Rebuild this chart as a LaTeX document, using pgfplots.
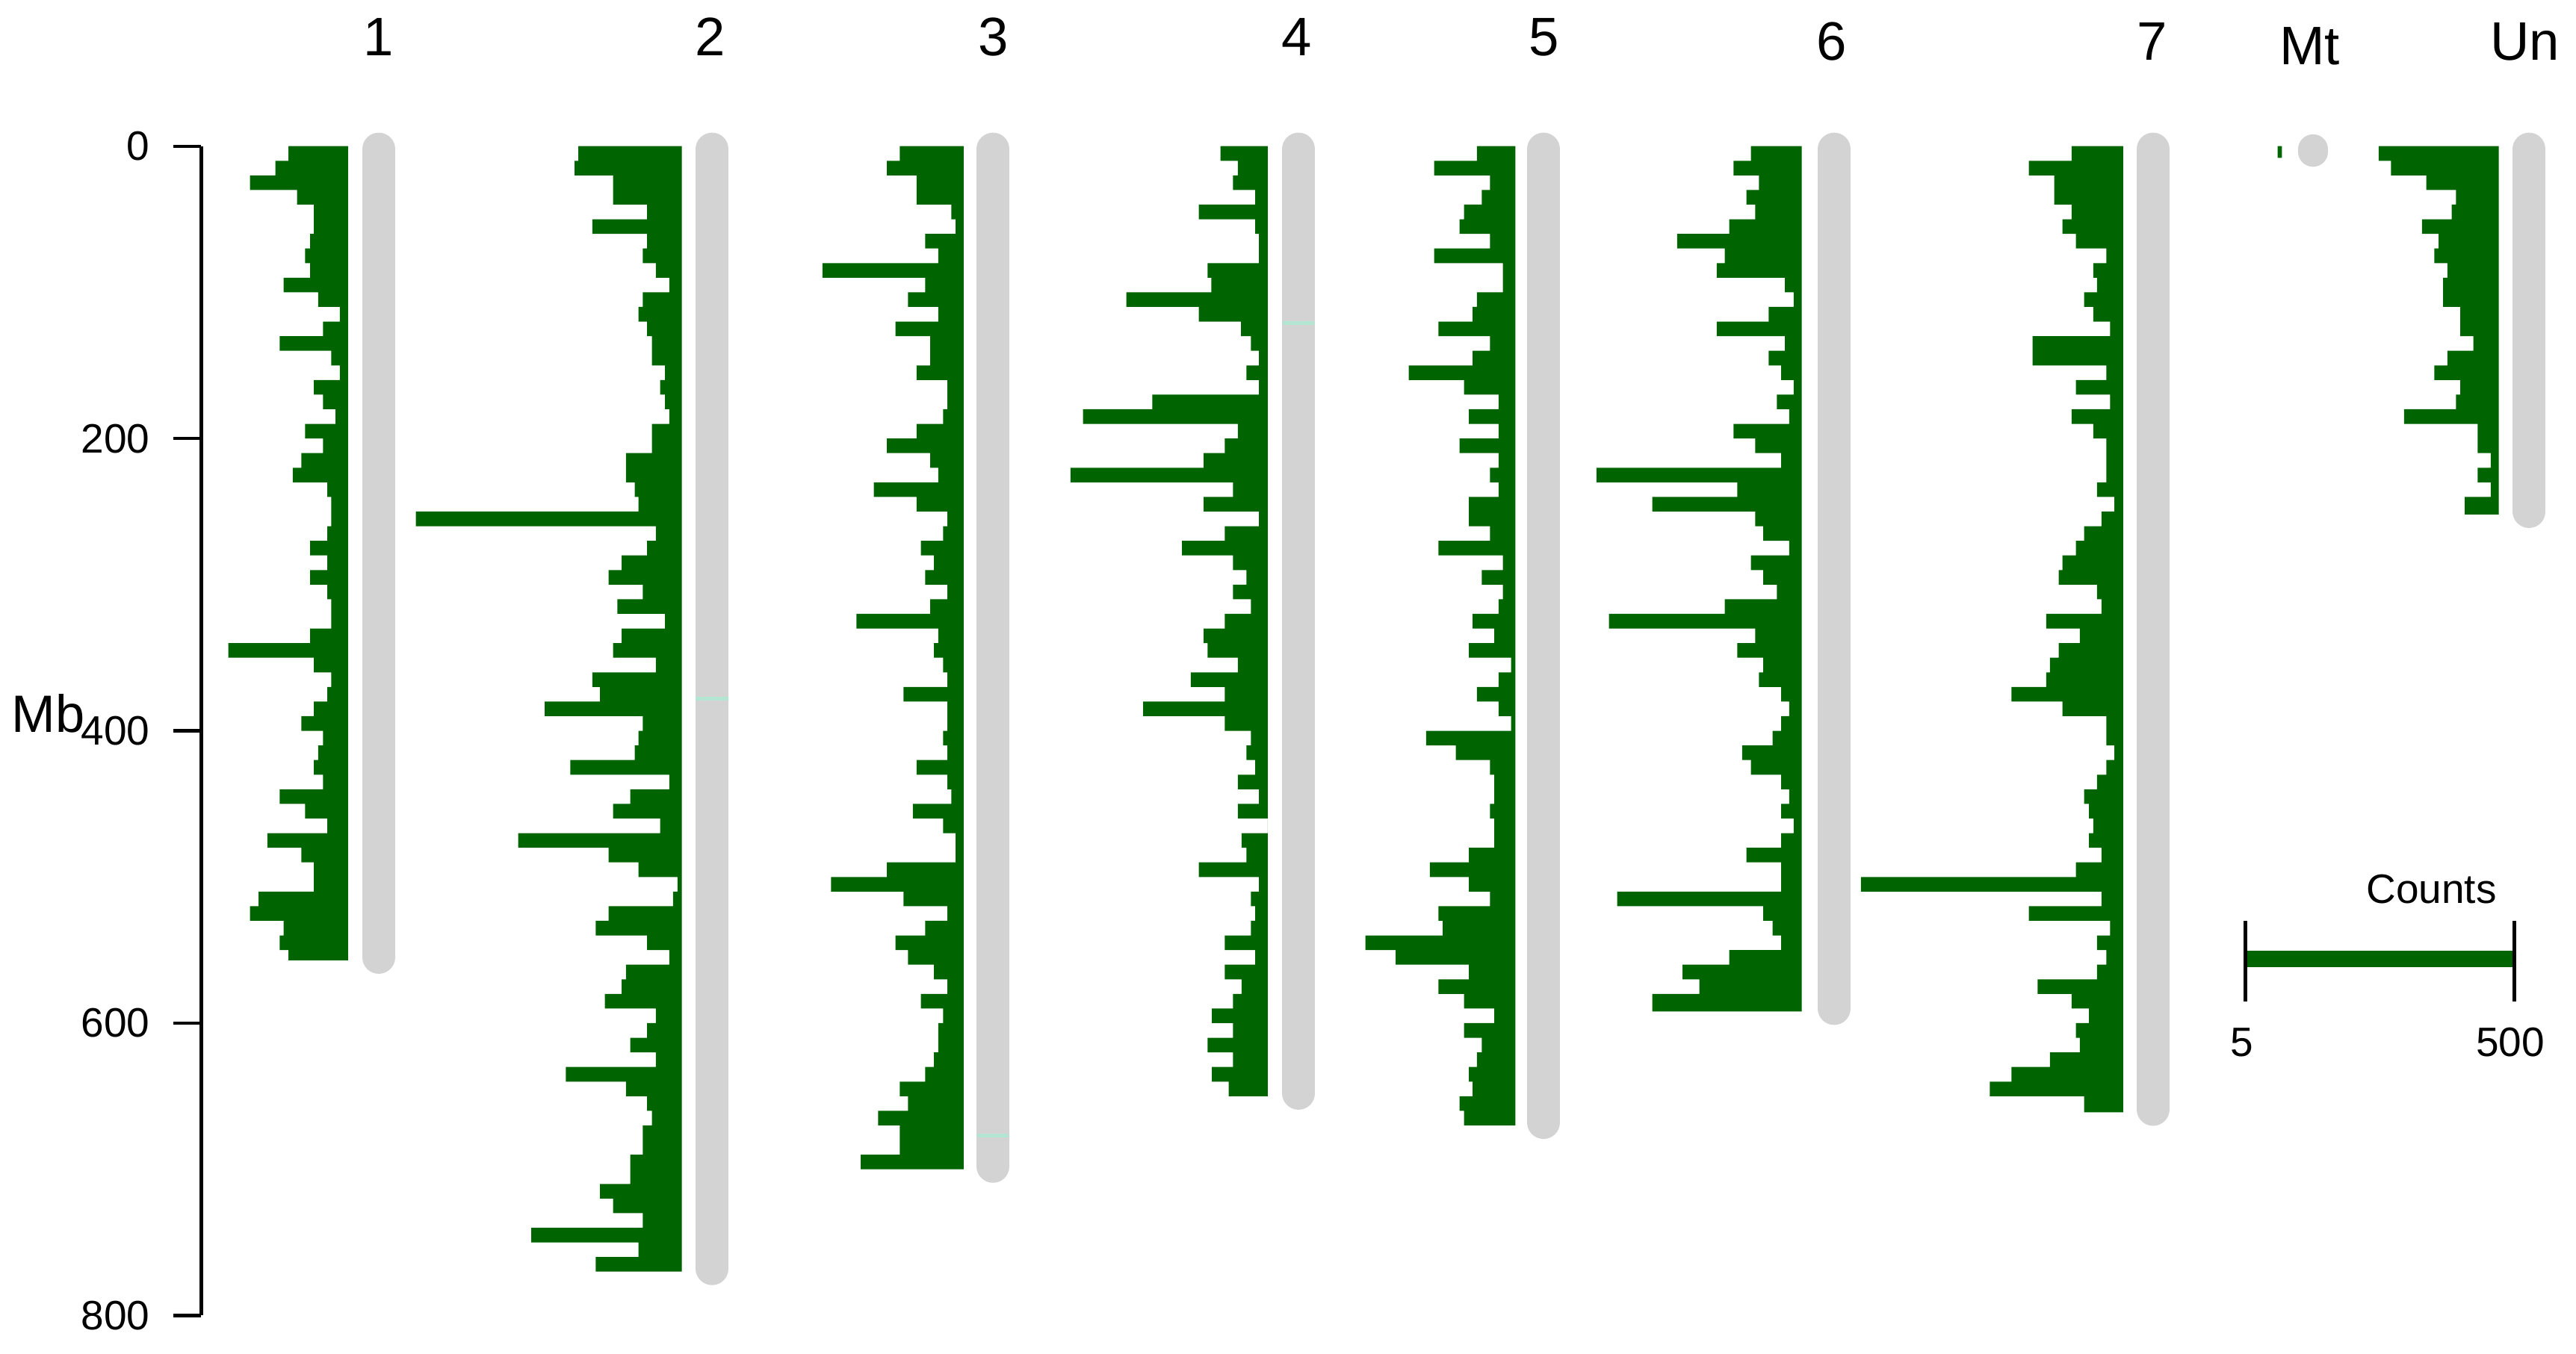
\documentclass[border=0pt]{standalone}
\usepackage{fontspec}
\setmainfont{Liberation Sans}
\usepackage{pgfplots}
\pgfplotsset{compat=1.18}

\definecolor{hgreen}{RGB}{0,100,0}
\definecolor{chrom}{RGB}{211,211,211}
\definecolor{cencol}{RGB}{178,230,210}
\newcommand{\fs}[1]{\fontsize{#1}{#1}\selectfont}

% one bin = 10 Mb; coordinates are (count, bin start in Mb)
% 500 counts = 164.8 units of bar length
\pgfplotsset{
  chr/.style={fill=hgreen, draw=none, const plot mark right,
    x filter/.expression={#1-0.3296*x}},
  cap/.style={chrom, line width=20pt, line cap=round},
  cenmark/.style={cencol, line width=2.5pt},
}

\begin{document}
\begin{tikzpicture}
\begin{axis}[name=main, x=1pt, y=0.89pt, y dir=reverse,
  xmin=0, xmax=1568, ymin=-100, ymax=826,
  hide axis, clip=false]

% chromosome bodies
\addplot[cap] coordinates {(230.5,2)(230.5,555)};
\addplot[cap] coordinates {(433.5,2)(433.5,768)};
\addplot[cap] coordinates {(604.5,2)(604.5,698)};
\addplot[cap] coordinates {(790.5,2)(790.5,648)};
\addplot[cap] coordinates {(939.5,2)(939.5,668)};
\addplot[cap] coordinates {(1116.5,2)(1116.5,590)};
\addplot[cap] coordinates {(1310.5,2)(1310.5,659)};
\addplot[chrom, line width=18pt, line cap=round] coordinates {(1408,2)(1408,4)};
\addplot[cap] coordinates {(1539.5,2)(1539.5,250)};

% centromere marks
\addplot[cenmark] coordinates {(423.5,378)(443.5,378)};
\addplot[cenmark] coordinates {(595,677)(614,677)};
\addplot[cenmark] coordinates {(781,121)(800,121)};

% chr 1
\addplot[chr=211.8] coordinates {(0,0)
(110,0)(134,10)(181,20)(94,30)(63,40)(63,50)(70,60)(79,70)(70,80)(119,90)
(55,100)(15,110)(46,120)(126,130)(31,140)(15,150)(63,160)(46,170)(23,180)(79,190)
(46,200)(86,210)(102,220)(38,230)(31,240)(31,250)(38,260)(70,270)(38,280)(70,290)
(38,300)(31,310)(31,320)(70,330)(221,340)(63,350)(31,360)(38,370)(63,380)(86,390)
(46,400)(55,410)(63,420)(46,430)(126,440)(79,450)(38,460)(149,470)(86,480)(63,490)
(63,500)(165,510)(181,520)(119,530)(126,540)(110,550)
(0,557)};

% chr 2
\addplot[chr=415.0] coordinates {(0,0)
(191,0)(198,10)(127,20)(127,30)(64,40)(165,50)(64,60)(72,70)(48,80)(23,90)
(72,100)(80,110)(64,120)(55,130)(55,140)(31,150)(40,160)(31,170)(23,180)(55,190)
(55,200)(103,210)(103,220)(87,230)(80,240)(491,250)(48,260)(64,270)(111,280)(135,290)
(72,300)(119,310)(31,320)(111,330)(127,340)(48,350)(165,360)(151,370)(253,380)(72,390)
(80,400)(87,410)(206,420)(23,430)(95,440)(127,450)(40,460)(302,470)(135,480)(80,490)
(8,500)(16,510)(135,520)(159,530)(64,540)(23,550)(103,560)(111,570)(142,580)(48,590)
(64,600)(95,610)(48,620)(214,630)(103,640)(64,650)(55,660)(72,670)(72,680)(95,690)
(95,700)(151,710)(127,720)(72,730)(278,740)(80,750)(159,760)
(0,770)};

% chr 3
\addplot[chr=586.6] coordinates {(0,0)
(118,0)(142,10)(87,20)(87,30)(23,40)(15,50)(71,60)(47,70)(261,80)(71,90)
(103,100)(47,110)(126,120)(62,130)(62,140)(87,150)(30,160)(30,170)(38,180)(87,190)
(142,200)(62,210)(47,220)(166,230)(87,240)(30,250)(38,260)(79,270)(55,280)(71,290)
(30,300)(62,310)(198,320)(47,330)(55,340)(38,350)(30,360)(111,370)(30,380)(30,390)
(38,400)(30,410)(87,420)(30,430)(23,440)(94,450)(38,460)(15,470)(15,480)(142,490)
(245,500)(111,510)(30,520)(71,530)(126,540)(103,550)(55,560)(30,570)(79,580)(38,590)
(47,600)(47,610)(55,620)(71,630)(118,640)(103,650)(158,660)(118,670)(118,680)(190,690)
(0,700)};

% chr 4
\addplot[chr=771.6] coordinates {(0,0)
(87,0)(55,10)(64,20)(23,30)(127,40)(23,50)(16,60)(16,70)(111,80)(104,90)
(261,100)(127,110)(49,120)(31,130)(16,140)(39,150)(16,160)(213,170)(341,180)(55,190)
(79,200)(118,210)(364,220)(64,230)(118,240)(16,250)(79,260)(158,270)(64,280)(39,290)
(64,300)(31,310)(79,320)(118,330)(111,340)(55,350)(142,360)(79,370)(230,380)(79,390)
(31,400)(39,410)(23,420)(55,430)(16,440)(55,450)(0,460)(48,470)(39,480)(127,490)
(16,500)(31,510)(23,520)(31,530)(79,540)(23,550)(79,560)(48,570)(64,580)(103,590)
(64,600)(111,610)(64,620)(103,630)(72,640)
(0,650)};

% chr 5
\addplot[chr=922.4] coordinates {(0,0)
(71,0)(150,10)(47,20)(62,30)(95,40)(103,50)(47,60)(150,70)(23,80)(23,90)
(71,100)(79,110)(142,120)(47,130)(79,140)(197,150)(95,160)(31,170)(86,180)(31,190)
(103,200)(31,210)(47,220)(31,230)(86,240)(86,250)(47,260)(142,270)(23,280)(62,290)
(23,300)(31,310)(79,320)(39,330)(86,340)(8,350)(31,360)(71,370)(31,380)(8,390)
(165,400)(110,410)(47,420)(39,430)(39,440)(47,450)(39,460)(39,470)(86,480)(158,490)
(86,500)(47,510)(142,520)(134,530)(277,540)(221,550)(86,560)(142,570)(95,580)(39,590)
(95,600)(62,610)(71,620)(86,630)(79,640)(103,650)(95,660)
(0,670)};

% chr 6
\addplot[chr=1096.7] coordinates {(0,0)
(94,0)(126,10)(79,20)(102,30)(86,40)(134,50)(230,60)(142,70)(157,80)(31,90)
(15,100)(61,110)(157,120)(31,130)(61,140)(38,150)(15,160)(46,170)(23,180)(126,190)
(86,200)(38,210)(379,220)(119,230)(276,240)(86,250)(71,260)(23,270)(94,280)(71,290)
(46,300)(142,310)(356,320)(86,330)(119,340)(71,350)(79,360)(38,370)(23,380)(38,390)
(54,400)(110,410)(94,420)(38,430)(23,440)(38,450)(15,460)(38,470)(102,480)(38,490)
(38,500)(341,510)(71,520)(54,530)(38,540)(134,550)(220,560)(189,570)(276,580)
(0,592)};

% chr 7
\addplot[chr=1292.3] coordinates {(0,0)
(95,0)(174,10)(127,20)(127,30)(95,40)(112,50)(87,60)(31,70)(55,80)(48,90)
(72,100)(55,110)(24,120)(167,130)(167,140)(31,150)(87,160)(24,170)(95,180)(55,190)
(31,200)(31,210)(31,220)(48,230)(16,240)(40,250)(72,260)(87,270)(112,280)(119,290)
(48,300)(40,310)(142,320)(80,330)(119,340)(135,350)(142,360)(206,370)(112,380)(31,390)
(31,400)(16,410)(31,420)(48,430)(72,440)(63,450)(55,460)(63,470)(40,480)(87,490)
(484,500)(40,510)(174,520)(24,530)(48,540)(31,550)(48,560)(158,570)(95,580)(63,590)
(87,600)(80,610)(135,620)(206,630)(246,640)(72,650)
(0,661)};

% Mt
\addplot[chr=1389] coordinates {(0,0)(8,0)(0,8)};

% Un
\addplot[chr=1521] coordinates {(0,0)
(222,0)(199,10)(134,20)(79,30)(87,40)(142,50)(111,60)(119,70)(95,80)(103,90)
(103,100)(71,110)(71,120)(47,130)(95,140)(119,150)(71,160)(79,170)(175,180)(39,190)
(39,200)(15,210)(39,220)(15,230)(63,240)
(0,252)};

% counts key
\addplot[hgreen, line width=10pt] coordinates {(1367.7,556)(1529.5,556)};
\addplot[black, line width=2.3pt] coordinates {(1366.6,530)(1366.6,585)};
\addplot[black, line width=2.3pt] coordinates {(1530.4,530)(1530.4,585)};
\node[font=\fs{25}, anchor=base] at (axis cs:1480,518) {Counts};
\node[font=\fs{25}, anchor=base] at (axis cs:1364.6,623) {5};
\node[font=\fs{25}, anchor=base] at (axis cs:1528,623) {500};

% chromosome names
\node[font=\fs{33}, anchor=base] at (axis cs:230.5,-62) {1};
\node[font=\fs{33}, anchor=base] at (axis cs:432.5,-62) {2};
\node[font=\fs{33}, anchor=base] at (axis cs:604.5,-62) {3};
\node[font=\fs{33}, anchor=base] at (axis cs:789.5,-62) {4};
\node[font=\fs{33}, anchor=base] at (axis cs:940,-62) {5};
\node[font=\fs{33}, anchor=base] at (axis cs:1115,-59) {6};
\node[font=\fs{33}, anchor=base] at (axis cs:1310,-59) {7};
\node[font=\fs{33}, anchor=base] at (axis cs:1406,-56) {Mt};
\node[font=\fs{33}, anchor=base] at (axis cs:1537,-59) {Un};

\node[font=\fs{32}, anchor=base west, inner sep=0pt] at (axis cs:7,401) {Mb};

\coordinate (yaxtop) at (axis cs:122.4,0);
\end{axis}

\begin{axis}[at={(yaxtop)}, anchor=north west,
  x=1pt, y=0.89pt, y dir=reverse,
  xmin=0, xmax=1, ymin=0, ymax=800,
  axis y line*=left, axis x line=none,
  ytick={0,200,400,600,800},
  tick align=outside, major tick length=17pt,
  major tick style={line width=2pt, black},
  axis line style={line width=2.2pt, black},
  yticklabel style={font=\fs{25}, inner sep=0pt, xshift=-14pt},
  /pgf/number format/assume math mode=true]
\end{axis}

\pgfresetboundingbox
\path[use as bounding box] (main.south west) rectangle (main.north east);
\end{tikzpicture}
\end{document}
